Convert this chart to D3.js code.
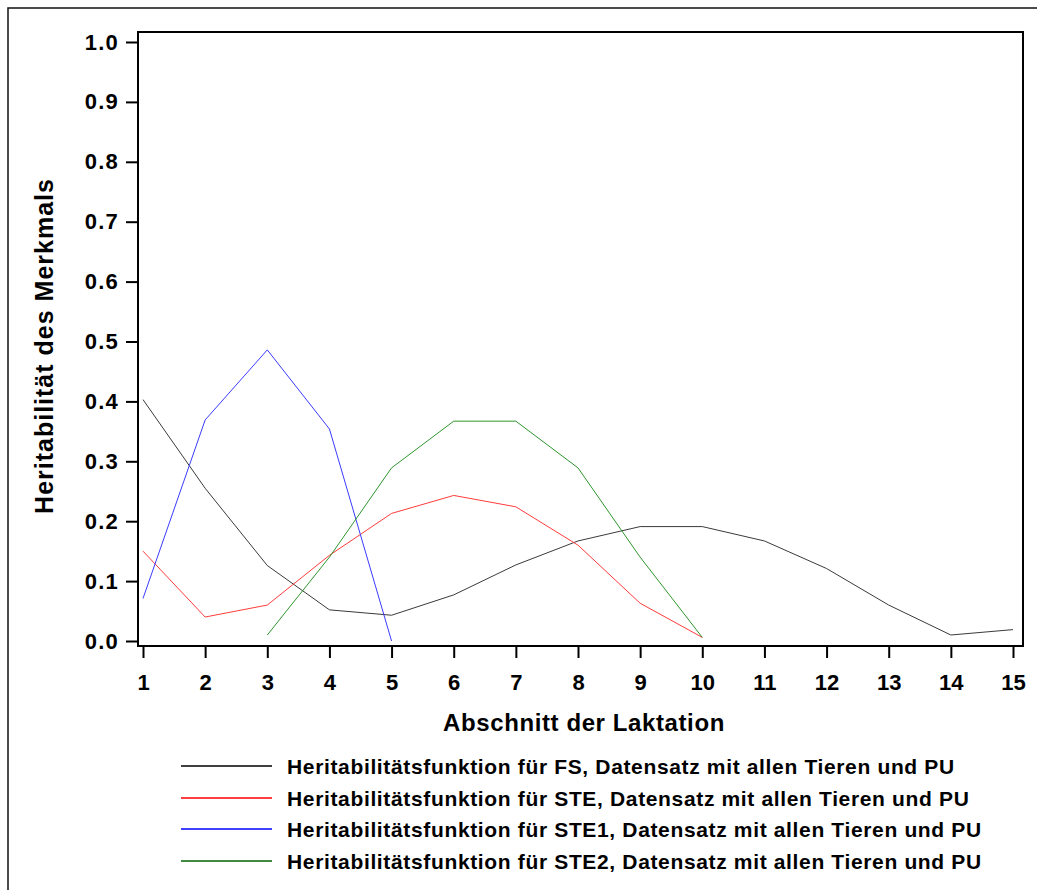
<!DOCTYPE html>
<html>
<head>
<meta charset="utf-8">
<script src="https://cdn.jsdelivr.net/npm/d3@7"></script>
<style>
  html, body { margin: 0; padding: 0; background: #fff; }
  svg { display: block; }
  text { font-family: "Liberation Sans", Arial, sans-serif; font-weight: bold; fill: #000; }
</style>
</head>
<body>
<svg id="chart" width="1037" height="890"></svg>
<script>
// ---------- data ----------
const periods = [1,2,3,4,5,6,7,8,9,10,11,12,13,14,15];
const yTicks = [0,0.1,0.2,0.3,0.4,0.5,0.6,0.7,0.8,0.9,1.0];

const fsX   = [1,2,3,4,5,6,7,8,9,10,11,12,13,14,15];
const fsY   = [0.403,0.255,0.126,0.052,0.043,0.077,0.127,0.167,0.191,0.191,0.167,0.121,0.060,0.010,0.019];

const steX  = [1,2,3,4,5,6,7,8,9,10];
const steY  = [0.150,0.040,0.060,0.143,0.213,0.243,0.224,0.160,0.063,0.006];

const ste1X = [1,2,3,4,5];
const ste1Y = [0.071,0.369,0.486,0.354,0.0];

const ste2X = [3,4,5,6,7,8,9,10];
const ste2Y = [0.010,0.140,0.289,0.367,0.367,0.289,0.140,0.006];

const seriesNames = [
  "Heritabilitätsfunktion für FS, Datensatz mit allen Tieren und PU",
  "Heritabilitätsfunktion für STE, Datensatz mit allen Tieren und PU",
  "Heritabilitätsfunktion für STE1, Datensatz mit allen Tieren und PU",
  "Heritabilitätsfunktion für STE2, Datensatz mit allen Tieren und PU"
];
const lineColors   = ["#3a3a3a", "#ff3b3b", "#3b3bff", "#2e962e"];
const legendColors = ["#000000", "#ff0000", "#0000ff", "#006400"];

const xTitle = "Abschnitt der Laktation";
const yTitle = "Heritabilität des Merkmals";

const series = [
  {x: fsX, y: fsY}, {x: steX, y: steY}, {x: ste1X, y: ste1Y}, {x: ste2X, y: ste2Y}
];

// ---------- layout ----------
const svg = d3.select("#chart");
const box = {left: 138, top: 32, right: 1023, bottom: 646};
const x = d3.scaleLinear().domain([1, 15]).range([143, 1013]);
const y = d3.scaleLinear().domain([0, 1]).range([641, 42]);

// outer frame
svg.append("path")
  .attr("d", "M8,890 L8,8 L1037,8")
  .attr("fill", "none").attr("stroke", "#111").attr("stroke-width", 1.5);

// series lines
const line = d3.line().x(d => x(d[0])).y(d => y(d[1]));
series.forEach((s, i) => {
  svg.append("path")
    .datum(s.x.map((v, j) => [v, s.y[j]]))
    .attr("d", line)
    .attr("fill", "none")
    .attr("stroke", lineColors[i])
    .attr("stroke-width", 1);
});

// plot frame
svg.append("rect")
  .attr("x", box.left).attr("y", box.top)
  .attr("width", box.right - box.left).attr("height", box.bottom - box.top)
  .attr("fill", "none").attr("stroke", "#000").attr("stroke-width", 2);

// x axis
const xAxis = svg.append("g")
  .attr("transform", `translate(0,${box.bottom + 1})`)
  .call(d3.axisBottom(x).tickValues(periods).tickFormat(d3.format("d")).tickSize(11).tickPadding(16));
xAxis.select(".domain").remove();
xAxis.selectAll(".tick line").attr("stroke", "#000").attr("stroke-width", 2);
xAxis.selectAll(".tick text")
  .style("font-size", "22px").style("font-family", "'Liberation Sans', Arial, sans-serif").style("font-weight", "bold");

// y axis
const yAxis = svg.append("g")
  .attr("transform", `translate(${box.left - 1},0)`)
  .call(d3.axisLeft(y).tickValues(yTicks).tickFormat(d3.format(".1f")).tickSize(11).tickPadding(7));
yAxis.select(".domain").remove();
yAxis.selectAll(".tick line").attr("stroke", "#000").attr("stroke-width", 2);
yAxis.selectAll(".tick text")
  .style("font-size", "22px").style("letter-spacing", "1.2px")
  .style("font-family", "'Liberation Sans', Arial, sans-serif").style("font-weight", "bold");

// axis titles
svg.append("text")
  .attr("x", 584).attr("y", 731)
  .attr("text-anchor", "middle")
  .style("font-size", "24px").style("letter-spacing", "0.6px")
  .text(xTitle);

svg.append("text")
  .attr("transform", "translate(53,346) rotate(-90)")
  .attr("text-anchor", "middle")
  .style("font-size", "25px").style("letter-spacing", "1px")
  .text(yTitle);

// legend
const legY = [766, 798, 829, 861];
seriesNames.forEach((name, i) => {
  svg.append("line")
    .attr("x1", 181).attr("x2", 272)
    .attr("y1", legY[i]).attr("y2", legY[i])
    .attr("stroke", legendColors[i]).attr("stroke-width", 1.5);
  svg.append("text")
    .attr("x", 287).attr("y", legY[i] + 8)
    .style("font-size", "21px").style("letter-spacing", "0.65px")
    .text(name);
});
</script>
</body>
</html>
